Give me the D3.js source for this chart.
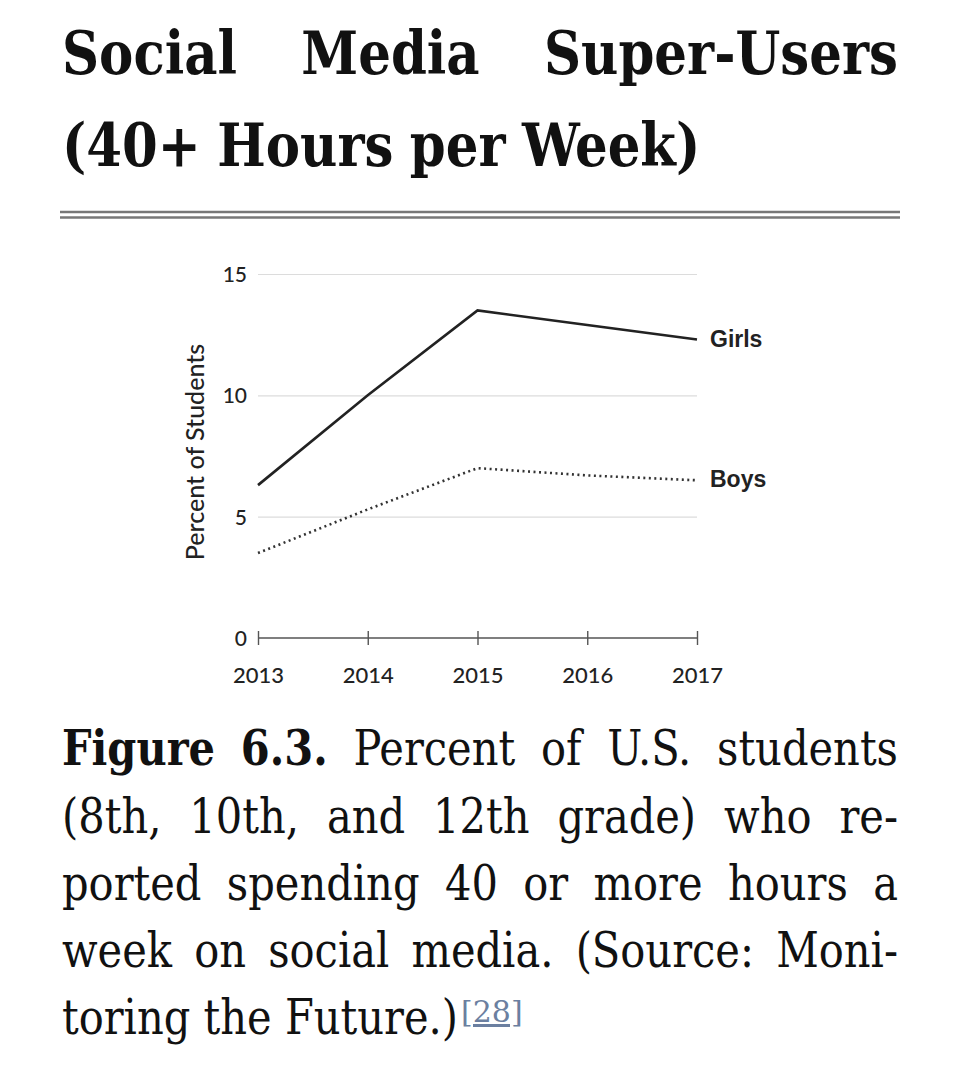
<!DOCTYPE html>
<html>
<head>
<meta charset="utf-8">
<script src="https://cdn.jsdelivr.net/npm/d3@7"></script>
<style>
  html, body { margin: 0; padding: 0; background: #fff; }
  svg { display: block; }
</style>
</head>
<body>
<svg id="chart" width="960" height="1065"></svg>
<script>
// ---- data ----
const years = [2013, 2014, 2015, 2016, 2017];
const girls = [6.3, 10.0, 13.5, 12.9, 12.3];
const boys = [3.5, 5.3, 7.0, 6.7, 6.5];
const yTicks = [0, 5, 10, 15];
const seriesNames = ["Girls", "Boys"];
const yTitle = "Percent of Students";
const titleLines = [["Social", "Media", "Super-Users"], ["(40+", "Hours", "per", "Week)"]];
const captionLines = [
  [["Figure", true], ["6.3.", true], ["Percent", false], ["of", false], ["U.S.", false], ["students", false]],
  [["(8th,", false], ["10th,", false], ["and", false], ["12th", false], ["grade)", false], ["who", false], ["re-", false]],
  [["ported", false], ["spending", false], ["40", false], ["or", false], ["more", false], ["hours", false], ["a", false]],
  [["week", false], ["on", false], ["social", false], ["media.", false], ["(Source:", false], ["Moni-", false]]
];
const captionLast = "toring the Future.)";
const footnote = "[28]";

// ---- setup ----
const svg = d3.select("#chart");
const serif = "'DejaVu Serif Condensed', 'DejaVu Serif', serif";
const sans = "Lato, 'Open Sans', sans-serif";
const L = 62, R = 898;

function measure(text, size, weight, family) {
  const t = svg.append("text").attr("font-family", family).attr("font-size", size)
    .attr("font-weight", weight).text(text);
  const w = t.node().getComputedTextLength();
  t.remove();
  return w;
}

function placeWords(words, baseline, size, sx, justify) {
  const widths = words.map(w => measure(w[0], size, w[1] ? "bold" : "normal", serif) * sx);
  const total = d3.sum(widths);
  const spaceW = measure("\u00a0", size, "normal", serif) * sx;
  const gap = justify ? (R - L - total) / (words.length - 1) : spaceW;
  let x = L;
  words.forEach((w, i) => {
    svg.append("text")
      .attr("transform", `translate(${x},${baseline}) scale(${sx},1)`)
      .attr("font-family", serif).attr("font-size", size)
      .attr("font-weight", w[1] ? "bold" : "normal")
      .attr("fill", "#111")
      .text(w[0]);
    x += widths[i] + gap;
  });
  return x - gap;
}

// ---- title ----
const titleSize = 59;
const tW = measure(titleLines[1].join(" "), titleSize, "bold", serif);
const tSx = 643 / tW;
placeWords(titleLines[0].map(w => [w, true]), 74, titleSize, tSx, true);
placeWords(titleLines[1].map(w => [w, true]), 166, titleSize, tSx, false);

// rule
[212, 217.5].forEach(y => {
  svg.append("line").attr("x1", 60).attr("x2", 900).attr("y1", y).attr("y2", y)
    .attr("stroke", "#777").attr("stroke-width", 2.6);
});

// ---- chart ----
const x = d3.scaleLinear().domain([2013, 2017]).range([258, 697]);
const y = d3.scaleLinear().domain([0, 15]).range([638, 274]);

// gridlines + y labels
const yAxis = d3.axisLeft(y).tickValues(yTicks).tickSize(-(697 - 258)).tickPadding(12);
const gy = svg.append("g").attr("transform", "translate(258,0)").call(yAxis);
gy.select(".domain").remove();
gy.selectAll(".tick line").attr("stroke", "#dcdcdc").attr("stroke-width", 1.2)
  .filter(d => d === 0).remove();
gy.selectAll(".tick text").attr("font-family", sans).attr("font-size", 21)
  .attr("fill", "#222").attr("font-weight", 500).attr("x", -11).attr("dy", "0.36em");

// x axis
const xAxis = d3.axisBottom(x).tickValues(years).tickFormat(d3.format("d")).tickSize(7);
const gx = svg.append("g").attr("transform", "translate(0,638)").call(xAxis);
gx.select(".domain").attr("stroke", "#555").attr("stroke-width", 1.6).attr("d", "M258,0H697");
gx.selectAll(".tick line").attr("stroke", "#555").attr("stroke-width", 1.4).attr("y1", -7).attr("y2", 7);
gx.selectAll(".tick text").attr("font-family", sans).attr("font-size", 22)
  .attr("fill", "#222").attr("font-weight", 500).attr("y", 29);

// y title
svg.append("text")
  .attr("transform", "translate(204,452) rotate(-90)")
  .attr("text-anchor", "middle")
  .attr("font-family", sans).attr("font-size", 25).attr("font-weight", 500).attr("fill", "#222")
  .text(yTitle);

// lines
const line = d3.line().x((d, i) => x(years[i])).y(d => y(d));
svg.append("path").datum(girls).attr("d", line).attr("fill", "none")
  .attr("stroke", "#222").attr("stroke-width", 2.6).attr("stroke-linejoin", "miter");
svg.append("path").datum(boys).attr("d", line).attr("fill", "none")
  .attr("stroke", "#333").attr("stroke-width", 2.6)
  .attr("stroke-dasharray", "2,3.5");

// series labels
[[seriesNames[0], girls], [seriesNames[1], boys]].forEach(([name, vals]) => {
  svg.append("text")
    .attr("x", 710).attr("y", y(vals[vals.length - 1]) - 1)
    .attr("dy", "0.35em")
    .attr("font-family", "'Liberation Sans', Arial, sans-serif")
    .attr("font-weight", "bold").attr("font-size", 23).attr("fill", "#222")
    .text(name);
});

// ---- caption ----
const capSize = 48;
const capW = measure(captionLast, capSize, "normal", serif);
const cSx = 396 / capW;
const baselines = [765, 833, 900, 967, 1034];
captionLines.forEach((words, i) => placeWords(words, baselines[i], capSize, cSx, true));
const endX = placeWords(captionLast.split(" ").map(w => [w, false]), baselines[4], capSize, cSx, false);
svg.append("text")
  .attr("x", endX + 3).attr("y", 1022)
  .attr("font-family", "'DejaVu Serif', serif").attr("font-size", 30).attr("fill", "#6b7fa0")
  .attr("text-decoration", "underline")
  .text(footnote);
</script>
</body>
</html>
